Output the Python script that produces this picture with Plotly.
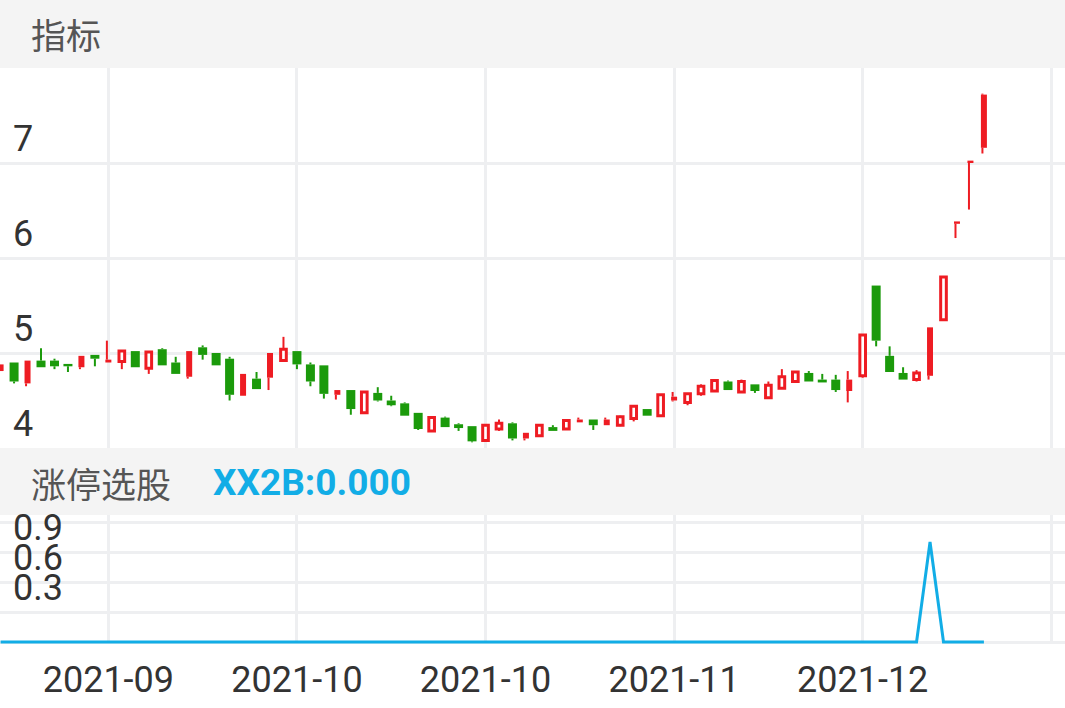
import plotly.graph_objects as go

# ---------------- data ----------------
day_index = list(range(74))
open_p = [4.81, 4.90, 4.68, 4.92, 4.92, 4.88, 4.85, 4.98, 4.90, 4.91,
          5.02, 4.84, 5.04, 4.90, 4.75, 5.06, 5.00, 4.94, 4.55, 4.73,
          4.74, 4.92, 5.02, 4.88, 4.87, 4.56, 4.61, 4.37, 4.58, 4.50,
          4.47, 4.37, 4.18, 4.32, 4.25, 4.23, 4.08, 4.20, 4.26, 4.10,
          4.13, 4.22, 4.20, 4.27, 4.30, 4.24, 4.24, 4.31, 4.41, 4.34,
          4.50, 4.48, 4.57, 4.60, 4.70, 4.59, 4.67, 4.53, 4.63, 4.70,
          4.79, 4.72, 4.72, 4.60, 4.76, 5.71, 4.97, 4.79, 4.72, 4.76,
          5.35, 6.36, 7.00, 7.16]
high_p = [4.88, 4.90, 4.92, 5.05, 4.94, 4.88, 4.97, 4.98, 5.13, 5.02,
          5.02, 5.01, 5.05, 4.96, 5.02, 5.08, 5.00, 4.96, 4.78, 4.80,
          5.00, 5.17, 5.02, 4.90, 4.87, 4.61, 4.61, 4.59, 4.64, 4.55,
          4.48, 4.37, 4.32, 4.33, 4.26, 4.23, 4.24, 4.30, 4.27, 4.16,
          4.25, 4.24, 4.29, 4.32, 4.30, 4.32, 4.34, 4.45, 4.41, 4.56,
          4.59, 4.57, 4.67, 4.72, 4.71, 4.72, 4.67, 4.70, 4.83, 4.81,
          4.81, 4.78, 4.77, 4.81, 5.19, 5.71, 5.07, 4.85, 4.82, 5.27,
          5.80, 6.38, 7.02, 7.73]
low_p = [4.81, 4.68, 4.65, 4.85, 4.83, 4.80, 4.83, 4.86, 4.90, 4.83,
         4.85, 4.78, 4.87, 4.78, 4.73, 4.93, 4.87, 4.50, 4.55, 4.62,
         4.61, 4.92, 4.83, 4.65, 4.52, 4.51, 4.35, 4.37, 4.49, 4.44,
         4.34, 4.19, 4.18, 4.22, 4.18, 4.06, 4.08, 4.18, 4.08, 4.08,
         4.13, 4.18, 4.20, 4.27, 4.19, 4.24, 4.23, 4.28, 4.34, 4.34,
         4.49, 4.45, 4.55, 4.60, 4.61, 4.59, 4.58, 4.52, 4.63, 4.70,
         4.70, 4.69, 4.59, 4.48, 4.74, 5.07, 4.80, 4.72, 4.70, 4.72,
         5.35, 6.21, 6.51, 7.10]
close_p = [4.88, 4.70, 4.92, 4.85, 4.86, 4.86, 4.97, 4.94, 4.93, 5.02,
           4.85, 5.01, 4.87, 4.78, 5.02, 4.98, 4.87, 4.56, 4.78, 4.62,
           5.00, 5.04, 4.88, 4.70, 4.57, 4.61, 4.41, 4.59, 4.50, 4.45,
           4.34, 4.20, 4.32, 4.22, 4.21, 4.07, 4.24, 4.26, 4.10, 4.16,
           4.24, 4.18, 4.29, 4.30, 4.24, 4.30, 4.33, 4.44, 4.34, 4.56,
           4.54, 4.57, 4.65, 4.71, 4.61, 4.70, 4.60, 4.66, 4.75, 4.80,
           4.70, 4.69, 4.61, 4.72, 5.19, 5.13, 4.80, 4.72, 4.79, 5.27,
           5.80, 6.38, 7.02, 7.72]
# up-days that the app draws as solid (filled) bodies
solid_up_days = [0, 2, 6, 8, 14, 18, 20, 25, 39, 43, 45, 50, 63, 69, 71, 72, 73]
# 涨停选股 indicator XX2B
xx2b = [0, 0, 0, 0, 0, 0, 0, 0, 0, 0, 0, 0, 0, 0, 0, 0, 0, 0, 0, 0,
        0, 0, 0, 0, 0, 0, 0, 0, 0, 0, 0, 0, 0, 0, 0, 0, 0, 0, 0, 0,
        0, 0, 0, 0, 0, 0, 0, 0, 0, 0, 0, 0, 0, 0, 0, 0, 0, 0, 0, 0,
        0, 0, 0, 0, 0, 0, 0, 0, 0, 1, 0, 0, 0, 0]
x_tick_pos = [8, 22, 36, 50, 64, 78]
x_tick_text = ["2021-09", "2021-10", "2021-10", "2021-11", "2021-12", ""]
price_ticks = [4, 5, 6, 7, 8]
price_tick_text = ["4", "5", "6", "7", ""]
ind_ticks = [0, 0.3, 0.6, 0.9, 1.2]
ind_tick_text = ["", "0.3", "0.6", "0.9", ""]

# ---------------- styles ----------------
RED = "#ee1c23"
GREEN = "#1b9a0b"
BLUE = "#12ade6"
GRID = "#eeeff1"
HEAD = "#f4f4f4"
W, H = 1065, 708
MIN_BODY = 0.025


def py(px):
    return 1 - px / H


groups = {"green": [], "hollow": [], "solid": []}
for i in day_index:
    if close_p[i] < open_p[i]:
        groups["green"].append(i)
    elif i in solid_up_days:
        groups["solid"].append(i)
    else:
        groups["hollow"].append(i)

fig = go.Figure()


def wick_trace(idx, color, dx):
    xs, ys = [], []
    for i in idx:
        top = max(open_p[i], close_p[i])
        bot = min(open_p[i], close_p[i])
        if high_p[i] > top:
            xs += [i + dx, i + dx, None]
            ys += [top, high_p[i], None]
        if low_p[i] < bot:
            xs += [i + dx, i + dx, None]
            ys += [bot, low_p[i], None]
    return go.Scatter(x=xs, y=ys, mode="lines", line=dict(color=color, width=2),
                      hoverinfo="skip", showlegend=False, xaxis="x", yaxis="y")


def body_trace(idx, width, fill, line_color, line_w):
    base = [min(open_p[i], close_p[i]) for i in idx]
    hgt = [max(abs(close_p[i] - open_p[i]), MIN_BODY) for i in idx]
    return go.Bar(x=idx, y=hgt, base=base, width=width,
                  marker=dict(color=fill, line=dict(color=line_color, width=line_w)),
                  hoverinfo="skip", showlegend=False, xaxis="x", yaxis="y")


fig.add_trace(body_trace(groups["green"], 0.668, GREEN, GREEN, 0))
fig.add_trace(body_trace(groups["solid"], 0.445, RED, RED, 0))
fig.add_trace(body_trace(groups["hollow"], 0.42, "white", RED, 3))
fig.add_trace(wick_trace(groups["green"], GREEN, 0))
fig.add_trace(wick_trace(groups["solid"], RED, -0.11))
fig.add_trace(wick_trace(groups["hollow"], RED, 0))

fig.add_trace(go.Scatter(x=day_index, y=xx2b, mode="lines",
                         line=dict(color=BLUE, width=3), hoverinfo="skip",
                         showlegend=False, xaxis="x2", yaxis="y2"))

tick_font = dict(family="Roboto", size=36, color="#333333")
xr = [-0.6 / 13.47, (W - 0.6) / 13.47]

fig.update_layout(
    width=W, height=H,
    margin=dict(l=0, r=0, t=0, b=0, pad=0, autoexpand=False),
    paper_bgcolor="white", plot_bgcolor="white",
    barmode="overlay",
    showlegend=False,
    xaxis=dict(domain=[0, 1], range=xr, anchor="y", tickmode="array",
               tickvals=x_tick_pos, showticklabels=False, showgrid=True,
               gridcolor=GRID, gridwidth=3, zeroline=False, showline=False,
               ticks="", automargin=False),
    xaxis2=dict(domain=[0, 1], range=xr, anchor="y2", matches="x",
                tickmode="array", tickvals=x_tick_pos, ticktext=x_tick_text,
                showgrid=True, gridcolor=GRID, gridwidth=3, zeroline=False,
                showline=False, ticks="outside", ticklen=4,
                tickcolor="rgba(0,0,0,0)", tickfont=tick_font,
                automargin=False),
    yaxis=dict(domain=[py(448), py(68)], range=[4, 8], anchor="x",
               tickmode="array", tickvals=price_ticks, ticktext=price_tick_text,
               ticklabelposition="inside", ticklabelshift=-25,
               ticklabelstandoff=10, ticklabeloverflow="allow",
               showgrid=True, gridcolor=GRID, gridwidth=3, zeroline=False,
               showline=False, ticks="", tickfont=tick_font, automargin=False),
    yaxis2=dict(domain=[py(644), py(515)], range=[-0.02, 1.27], anchor="x2",
                tickmode="array", tickvals=ind_ticks, ticktext=ind_tick_text,
                ticklabelposition="inside", ticklabelshift=-25,
                ticklabelstandoff=10, ticklabeloverflow="allow",
                showgrid=True, gridcolor=GRID, gridwidth=3, zeroline=False,
                showline=False, ticks="", tickfont=tick_font, automargin=False),
    shapes=[
        dict(type="rect", xref="paper", yref="paper", x0=0, x1=1,
             y0=py(68), y1=1, fillcolor=HEAD, line=dict(width=0), layer="below"),
        dict(type="rect", xref="paper", yref="paper", x0=0, x1=1,
             y0=py(515), y1=py(448), fillcolor=HEAD, line=dict(width=0),
             layer="below"),
    ],
    annotations=[
        dict(text="指标", xref="paper", yref="paper", x=29 / W, y=py(34),
             xanchor="left", yanchor="middle", showarrow=False,
             font=dict(family="Noto Sans CJK SC", size=35, color="#555555")),
        dict(text="涨停选股", xref="paper", yref="paper", x=29 / W, y=py(482),
             xanchor="left", yanchor="middle", showarrow=False,
             font=dict(family="Noto Sans CJK SC", size=35, color="#555555")),
        dict(text="XX2B:0.000", xref="paper", yref="paper", x=211 / W, y=py(483),
             xanchor="left", yanchor="middle", showarrow=False,
             font=dict(family="Roboto", size=37, color=BLUE, weight="bold")),
    ],
)

fig.write_html("out.html", config={"displayModeBar": False},
               post_script="document.body.style.margin='0';")
